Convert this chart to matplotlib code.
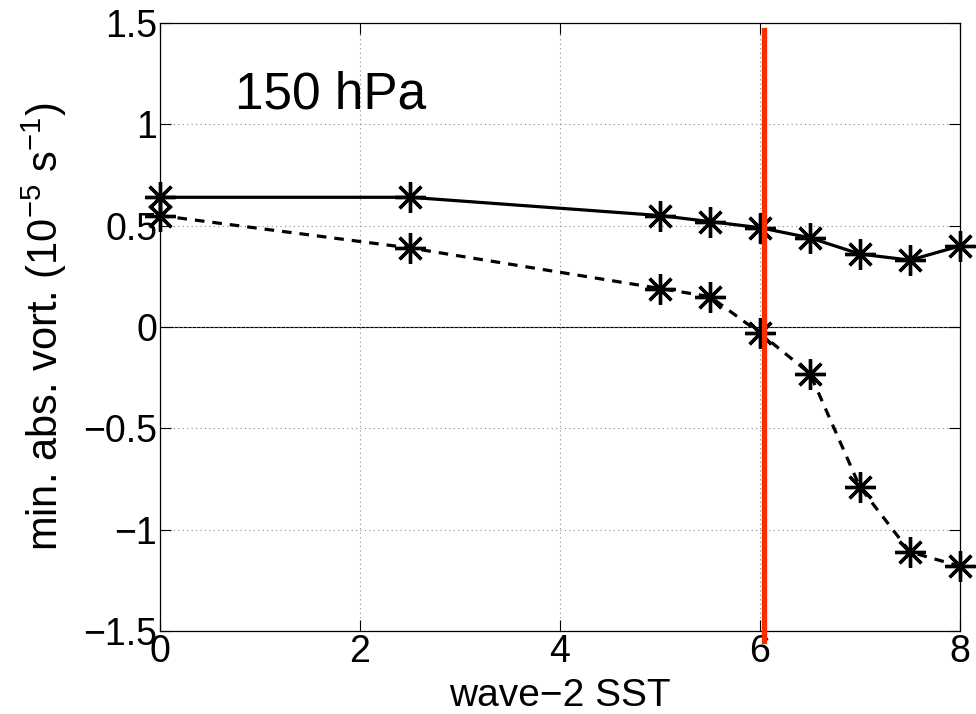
import matplotlib
matplotlib.use("Agg")
import matplotlib.pyplot as plt

# data
sst = [0, 2.5, 5, 5.5, 6, 6.5, 7, 7.5, 8]
vort_solid = [0.64, 0.64, 0.55, 0.52, 0.49, 0.44, 0.36, 0.33, 0.40]
vort_dashed = [0.55, 0.39, 0.19, 0.15, -0.03, -0.23, -0.79, -1.11, -1.18]
threshold_x = 6.04
threshold_y = [-1.55, 1.465]
xticks = [0, 2, 4, 6, 8]
yticks = [-1.5, -1, -0.5, 0, 0.5, 1, 1.5]
yticklabels = ["\u22121.5", "\u22121", "\u22120.5", "0", "0.5", "1", "1.5"]

plt.rcParams["font.family"] = ["Liberation Sans", "DejaVu Sans"]
plt.rcParams["mathtext.fontset"] = "custom"
plt.rcParams["mathtext.rm"] = "Liberation Sans"

fig = plt.figure(figsize=(9.76, 7.14), dpi=100)
ax = fig.add_axes([0.164, 0.1162, 0.8196, 0.8516])

ax.axhline(0, color="black", lw=0.8, zorder=1)
ax.plot(sst, vort_solid, "-", color="black", lw=2.3, marker=(8, 2, 0),
        ms=22, mew=2.4, zorder=3, clip_on=False)
ax.plot(sst, vort_dashed, "--", color="black", lw=2.3, dashes=(3, 2.5),
        marker=(8, 2, 0), ms=22, mew=2.4, zorder=3, clip_on=False)
ax.plot([threshold_x, threshold_x], threshold_y, color="#ff2a00", lw=3.8,
        zorder=4, clip_on=False)

ax.set_xlim(0, 8)
ax.set_ylim(-1.5, 1.5)
ax.set_xticks(xticks)
ax.set_yticks(yticks)
ax.set_yticklabels(yticklabels)
ax.tick_params(direction="in", length=8, width=0.8, labelsize=27, pad=2,
               top=True, right=True)
ax.grid(True, linestyle=(0, (1, 3)), color="#888888", lw=0.8)
for s in ax.spines.values():
    s.set_linewidth(0.9)

ax.set_xlabel("wave\u22122 SST", fontsize=28, labelpad=6)
ax.set_ylabel(r"min. abs. vort. (10$^{-5}$ s$^{-1}$)", fontsize=30, labelpad=10)
ax.text(0.75, 1.08, "150 hPa", fontsize=37)

fig.savefig("out.png", dpi=100)
